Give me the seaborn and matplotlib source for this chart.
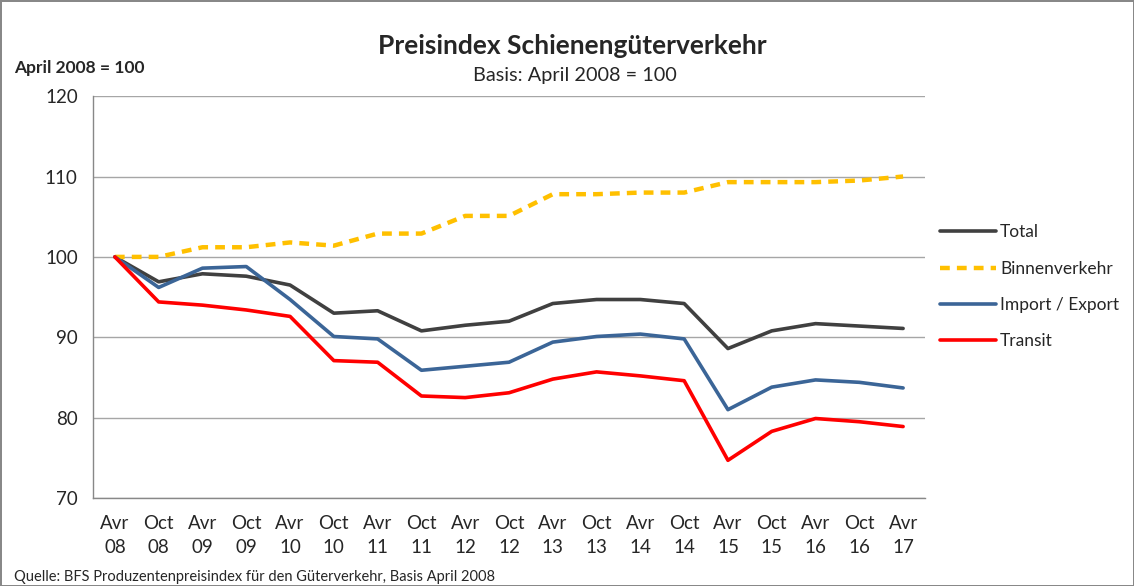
import matplotlib
matplotlib.use("Agg")
import matplotlib.pyplot as plt
import seaborn as sns
import pandas as pd
from matplotlib.lines import Line2D

periods = ["Avr\n08", "Oct\n08", "Avr\n09", "Oct\n09", "Avr\n10", "Oct\n10", "Avr\n11",
           "Oct\n11", "Avr\n12", "Oct\n12", "Avr\n13", "Oct\n13", "Avr\n14", "Oct\n14",
           "Avr\n15", "Oct\n15", "Avr\n16", "Oct\n16", "Avr\n17"]

total = [100, 96.9, 97.9, 97.6, 96.5, 93.0, 93.3, 90.8, 91.5, 92.0,
         94.2, 94.7, 94.7, 94.2, 88.6, 90.8, 91.7, 91.4, 91.1]
binnen = [100, 100.0, 101.2, 101.2, 101.8, 101.4, 102.9, 102.9, 105.1, 105.1,
          107.8, 107.8, 108.0, 108.0, 109.3, 109.3, 109.3, 109.5, 110.0]
import_export = [100, 96.2, 98.6, 98.8, 94.7, 90.1, 89.8, 85.9, 86.4, 86.9,
                 89.4, 90.1, 90.4, 89.8, 81.0, 83.8, 84.7, 84.4, 83.7]
transit = [100, 94.4, 94.0, 93.4, 92.6, 87.1, 86.9, 82.7, 82.5, 83.1,
           84.8, 85.7, 85.2, 84.6, 74.7, 78.3, 79.9, 79.5, 78.9]

series = {"Total": total, "Binnenverkehr": binnen,
          "Import / Export": import_export, "Transit": transit}
colors = {"Total": "#404040", "Binnenverkehr": "#FFC000",
          "Import / Export": "#3B6597", "Transit": "#FF0000"}

rows = []
for name, vals in series.items():
    for i, v in enumerate(vals):
        rows.append({"idx": i, "value": v, "series": name})
df = pd.DataFrame(rows)

sns.set_style("white")
plt.rcParams["font.family"] = ["Lato", "DejaVu Sans"]

fig = plt.figure(figsize=(11.34, 5.86), dpi=100)
fig.patch.set_edgecolor("#888888")
fig.patch.set_linewidth(2)
ax = fig.add_axes([0.082, 0.150, 0.7337, 0.686])

for name in series:
    sub = df[df["series"] == name]
    if name == "Binnenverkehr":
        sns.lineplot(data=sub, x="idx", y="value", ax=ax, color=colors[name],
                     linewidth=3.2, linestyle=(0, (2.2, 1.6)), legend=False)
    else:
        sns.lineplot(data=sub, x="idx", y="value", ax=ax, color=colors[name],
                     linewidth=2.6, legend=False)

ax.set_xlim(-0.5, len(periods) - 0.5)
ax.set_ylim(70, 120)
ax.set_yticks([70, 80, 90, 100, 110, 120])
ax.set_xticks(range(len(periods)))
ax.set_xticklabels(periods, fontsize=13.5, linespacing=1.5)
ax.set_xticks([i + 0.5 for i in range(-1, len(periods))], minor=True)
ax.tick_params(axis="x", which="major", length=0, pad=12)
ax.tick_params(axis="x", which="minor", length=5, color="#888888", direction="out")
ax.tick_params(axis="y", length=5, color="#888888", direction="out", labelsize=13.5, pad=6)
ax.yaxis.grid(True, color="#A6A6A6", linewidth=1)
ax.set_axisbelow(True)
ax.set_xlabel("")
ax.set_ylabel("")
for s in ["top", "right"]:
    ax.spines[s].set_visible(False)
for s in ["left", "bottom"]:
    ax.spines[s].set_color("#888888")
    ax.spines[s].set_linewidth(1)

handles = [Line2D([0], [0], color=colors["Total"], lw=2.6),
           Line2D([0], [0], color=colors["Binnenverkehr"], lw=3.2, linestyle=(0, (2.2, 1.6))),
           Line2D([0], [0], color=colors["Import / Export"], lw=2.6),
           Line2D([0], [0], color=colors["Transit"], lw=2.6)]
fig.legend(handles, list(series.keys()), loc="upper left",
           bbox_to_anchor=(0.826, 0.623), frameon=False, fontsize=12.5,
           handlelength=3.2, handletextpad=0.25, labelspacing=1.17,
           borderaxespad=0, borderpad=0.2)

fig.text(0.505, 0.922, "Preisindex Schienengüterverkehr", ha="center", va="center",
         fontsize=19, fontweight="bold")
fig.text(0.507, 0.872, "Basis: April 2008 = 100", ha="center", va="center", fontsize=14.3)
fig.text(0.012, 0.884, "April 2008 = 100", ha="left", va="center", fontsize=12.5,
         fontweight="bold")
fig.text(0.012, 0.015, "Quelle: BFS Produzentenpreisindex für den Güterverkehr, Basis April 2008",
         ha="left", va="center", fontsize=10.5)

fig.savefig("out.png", dpi=100, edgecolor=fig.get_edgecolor())
